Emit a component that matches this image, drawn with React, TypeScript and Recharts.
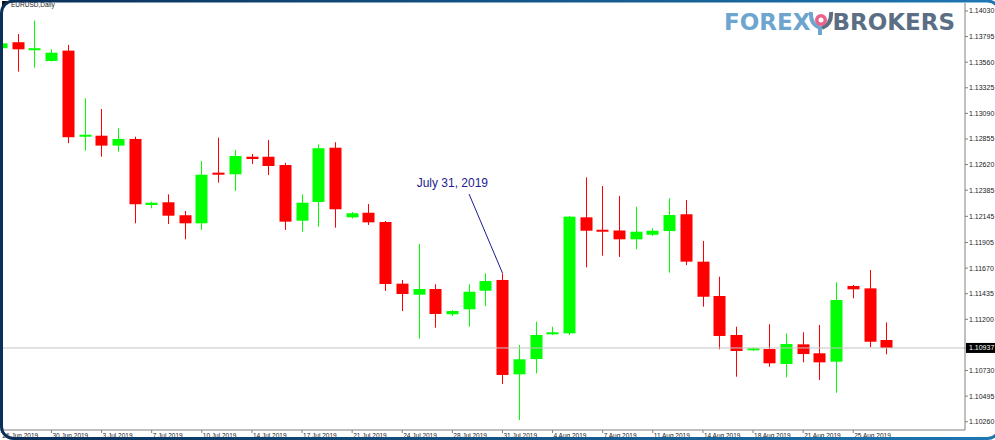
import {
  ComposedChart,
  Bar,
  XAxis,
  YAxis,
  ReferenceLine,
  ReferenceDot,
} from 'recharts';

// EURUSD daily bars, 26 Jun - 27 Aug 2019 (MT4 style, Sunday bars included)
const dates = [
  '26 Jun 2019', '27 Jun 2019', '28 Jun 2019', '30 Jun 2019', '1 Jul 2019', '2 Jul 2019',
  '3 Jul 2019', '4 Jul 2019', '5 Jul 2019', '7 Jul 2019', '8 Jul 2019', '9 Jul 2019',
  '10 Jul 2019', '11 Jul 2019', '12 Jul 2019', '14 Jul 2019', '15 Jul 2019', '16 Jul 2019',
  '17 Jul 2019', '18 Jul 2019', '19 Jul 2019', '21 Jul 2019', '22 Jul 2019', '23 Jul 2019',
  '24 Jul 2019', '25 Jul 2019', '26 Jul 2019', '28 Jul 2019', '29 Jul 2019', '30 Jul 2019',
  '31 Jul 2019', '1 Aug 2019', '2 Aug 2019', '4 Aug 2019', '5 Aug 2019', '6 Aug 2019',
  '7 Aug 2019', '8 Aug 2019', '9 Aug 2019', '11 Aug 2019', '12 Aug 2019', '13 Aug 2019',
  '14 Aug 2019', '15 Aug 2019', '16 Aug 2019', '18 Aug 2019', '19 Aug 2019', '20 Aug 2019',
  '21 Aug 2019', '22 Aug 2019', '23 Aug 2019', '25 Aug 2019', '26 Aug 2019', '27 Aug 2019',
];

const opens = [
  1.13688, 1.13743, 1.13681, 1.13571, 1.13666, 1.12876, 1.12885, 1.12794, 1.12855, 1.12249,
  1.12274, 1.12155, 1.12081, 1.12546, 1.12531, 1.12692, 1.12692, 1.12616, 1.12105, 1.12277,
  1.12775, 1.12136, 1.12178, 1.12093, 1.11527, 1.11426, 1.11478, 1.11246, 1.11292, 1.11462,
  1.11561, 1.10695, 1.10835, 1.11062, 1.11071, 1.12136, 1.12022, 1.12015, 1.11934, 1.11976,
  1.1201, 1.12164, 1.11729, 1.11414, 1.11056, 1.10918, 1.10927, 1.1079, 1.1097, 1.10888,
  1.10811, 1.11506, 1.11484, 1.1101,
];

const highs = [
  1.13755, 1.13819, 1.13941, 1.13678, 1.13718, 1.13229, 1.1313, 1.12953, 1.12876, 1.12279,
  1.12347, 1.12194, 1.12653, 1.12867, 1.12754, 1.12717, 1.12846, 1.12637, 1.12347, 1.12806,
  1.12825, 1.12185, 1.12258, 1.12102, 1.11561, 1.11891, 1.11521, 1.11285, 1.11521, 1.11622,
  1.11622, 1.10964, 1.11178, 1.11132, 1.12148, 1.12503, 1.12424, 1.12332, 1.12234, 1.12035,
  1.12311, 1.12295, 1.11919, 1.11591, 1.11132, 1.10943, 1.11154, 1.11071, 1.11081, 1.11148,
  1.1154, 1.11515, 1.11652, 1.11172,
];

const lows = [
  1.13672, 1.13473, 1.1351, 1.13566, 1.12816, 1.12748, 1.12692, 1.12738, 1.12081, 1.12219,
  1.12075, 1.11934, 1.1202, 1.12454, 1.12378, 1.12625, 1.12524, 1.1202, 1.12004, 1.1205,
  1.12041, 1.12125, 1.12066, 1.1146, 1.11276, 1.11022, 1.11123, 1.1123, 1.11132, 1.11322,
  1.10606, 1.10275, 1.10704, 1.11056, 1.11056, 1.11677, 1.11784, 1.11772, 1.11841, 1.11965,
  1.11628, 1.11698, 1.11316, 1.10924, 1.10673, 1.10909, 1.10765, 1.10667, 1.10805, 1.10643,
  1.10526, 1.11393, 1.10943, 1.10879,
];

const closes = [
  1.13733, 1.13678, 1.13688, 1.13647, 1.12871, 1.12894, 1.12794, 1.12855, 1.12256, 1.1227,
  1.12151, 1.12081, 1.12527, 1.12527, 1.12699, 1.12671, 1.12607, 1.12096, 1.1227, 1.1277,
  1.1221, 1.12173, 1.1209, 1.11524, 1.11432, 1.11478, 1.11249, 1.11276, 1.11453, 1.11551,
  1.10689, 1.10833, 1.11056, 1.11081, 1.12142, 1.12013, 1.12004, 1.11934, 1.12004, 1.12013,
  1.12157, 1.11729, 1.11407, 1.11047, 1.10909, 1.10934, 1.10796, 1.10973, 1.10881, 1.10805,
  1.11377, 1.11475, 1.10994, 1.10937,
];

const priceTicks = [
  1.1403, 1.13795, 1.1356, 1.13325, 1.1309, 1.12855, 1.1262, 1.12385, 1.12145, 1.11905,
  1.1167, 1.11435, 1.112, 1.10937, 1.1073, 1.10495, 1.1026,
];
const lastPrice = 1.10937;
const priceDomain = [1.10184, 1.14103];

const noteText = 'July 31, 2019';
const noteDate = '28 Jul 2019';
const notePrice = 1.12451;
const pointerFrom = { x: '29 Jul 2019', y: 1.1235 };
const pointerTo = { x: '31 Jul 2019', y: 1.11625 };

const data = dates.map((date, i) => ({
  date,
  open: opens[i],
  high: highs[i],
  low: lows[i],
  close: closes[i],
}));

const axisFont = '"Liberation Sans", Arial, sans-serif';

const Candle = (props: any) => {
  const { x, y, width, height, payload } = props;
  if (x == null || y == null) return null;
  const { open, close, high, low } = payload;
  const color = close >= open ? '#00ff00' : '#ff0000';
  const top = Math.min(y, y + height);
  const h = Math.abs(height);
  const ratio = h / (high - low || 1);
  const cx = Math.round(x + width / 2) + 0.5;
  const bodyTop = top + (high - Math.max(open, close)) * ratio;
  const bodyH = Math.max(Math.abs(open - close) * ratio, 2);
  return (
    <g>
      <line x1={cx} x2={cx} y1={top} y2={top + h} stroke={color} strokeWidth={1} />
      <rect x={cx - width / 2} y={bodyTop} width={width} height={bodyH} fill={color} />
    </g>
  );
};

const DateTick = (props: any) => {
  const { x, y, payload } = props;
  return (
    <text x={x + 1} y={y + 5} fontSize={6.5} fontFamily={axisFont} fill="#222" textAnchor="start">
      {payload.value}
    </text>
  );
};

const PriceTick = (props: any) => {
  const { x, y, payload } = props;
  const label = Number(payload.value).toFixed(5);
  if (Math.abs(payload.value - lastPrice) < 1e-7) {
    return (
      <g>
        <rect x={x - 3} y={y - 5} width={32} height={10} fill="#000" />
        <text x={x} y={y} dy="0.35em" fontSize={7} fontFamily={axisFont} fill="#fff" textAnchor="start">
          {label}
        </text>
      </g>
    );
  }
  return (
    <text x={x} y={y} dy="0.35em" fontSize={7} fontFamily={axisFont} fill="#222" textAnchor="start">
      {label}
    </text>
  );
};

export default function App() {
  return (
    <div style={{ position: 'relative', width: 995, height: 440, overflow: 'hidden', background: '#fff' }}>
      <style>{'body{margin:0}'}</style>

      <div style={{ position: 'absolute', left: -7, top: 0 }}>
        <ComposedChart width={1002} height={440} data={data} margin={{ top: 3, right: 0, bottom: 0, left: 0 }}>
          <XAxis
            dataKey="date"
            height={10}
            interval={2}
            padding={{ left: 0, right: 70 }}
            tick={<DateTick />}
            tickSize={3}
            tickMargin={0}
            axisLine={{ stroke: '#808080' }}
            tickLine={{ stroke: '#808080' }}
          />
          <YAxis
            orientation="right"
            type="number"
            width={30}
            domain={priceDomain}
            allowDataOverflow
            ticks={priceTicks}
            interval={0}
            tick={<PriceTick />}
            tickSize={3}
            tickMargin={1}
            axisLine={{ stroke: '#808080' }}
            tickLine={{ stroke: '#808080' }}
          />
          <ReferenceLine y={lastPrice} stroke="#c4c4c4" strokeWidth={1} />
          <Bar
            dataKey={(d: any) => [d.low, d.high]}
            barSize={12}
            shape={<Candle />}
            isAnimationActive={false}
          />
          <ReferenceLine segment={[pointerFrom, pointerTo]} stroke="#1c1c8c" strokeWidth={1} ifOverflow="visible" />
          <ReferenceDot
            x={noteDate}
            y={notePrice}
            r={0}
            ifOverflow="visible"
            shape={(p: any) => (
              <text x={p.cx} y={p.cy} dy="0.35em" textAnchor="middle" fontSize={12} fontFamily={axisFont} fill="#1c1c8c">
                {noteText}
              </text>
            )}
          />
        </ComposedChart>
      </div>

      {/* symbol caption */}
      <svg style={{ position: 'absolute', left: 2, top: 1 }} width={6} height={6}>
        <path d="M0 0 L6 0 L0 6 Z" fill="#111" />
      </svg>
      <div style={{ position: 'absolute', left: 11, top: 1, fontSize: 6.5, fontFamily: axisFont, color: '#222' }}>
        EURUSD,Daily
      </div>

      {/* watermark logo */}
      <div
        style={{
          position: 'absolute',
          left: 724,
          top: 8,
          display: 'flex',
          alignItems: 'center',
          fontFamily: '"DejaVu Sans", sans-serif',
          fontWeight: 'bold',
          fontSize: 23,
          lineHeight: '28px',
        }}
      >
        <span style={{ color: '#6ea5cf' }}>FOREX</span>
        <svg width={26} height={28} style={{ margin: '0 -2px' }}>
          <path d="M3 4 Q2 16 12 20 L12 27" stroke="#6ea5cf" strokeWidth={4} fill="none" />
          <path d="M23 4 Q24 16 14 20" stroke="#5c6e84" strokeWidth={4} fill="none" />
          <circle cx={13} cy={12} r={6} fill="#e8628a" />
          <circle cx={13} cy={12} r={2.5} fill="#fff" />
        </svg>
        <span style={{ color: '#5c6e84' }}>BROKERS</span>
      </div>

      {/* screenshot frame */}
      <svg style={{ position: 'absolute', left: 0, top: 0, pointerEvents: 'none' }} width={995} height={440}>
        <defs>
          <linearGradient id="frame" x1="0" x2="1" y1="0" y2="0">
            <stop offset="0" stopColor="#0a2f58" />
            <stop offset="1" stopColor="#1d78b4" />
          </linearGradient>
        </defs>
        <rect x={1.5} y={1} width={998} height={437.5} rx={12} fill="none" stroke="url(#frame)" strokeWidth={3} />
      </svg>
    </div>
  );
}
